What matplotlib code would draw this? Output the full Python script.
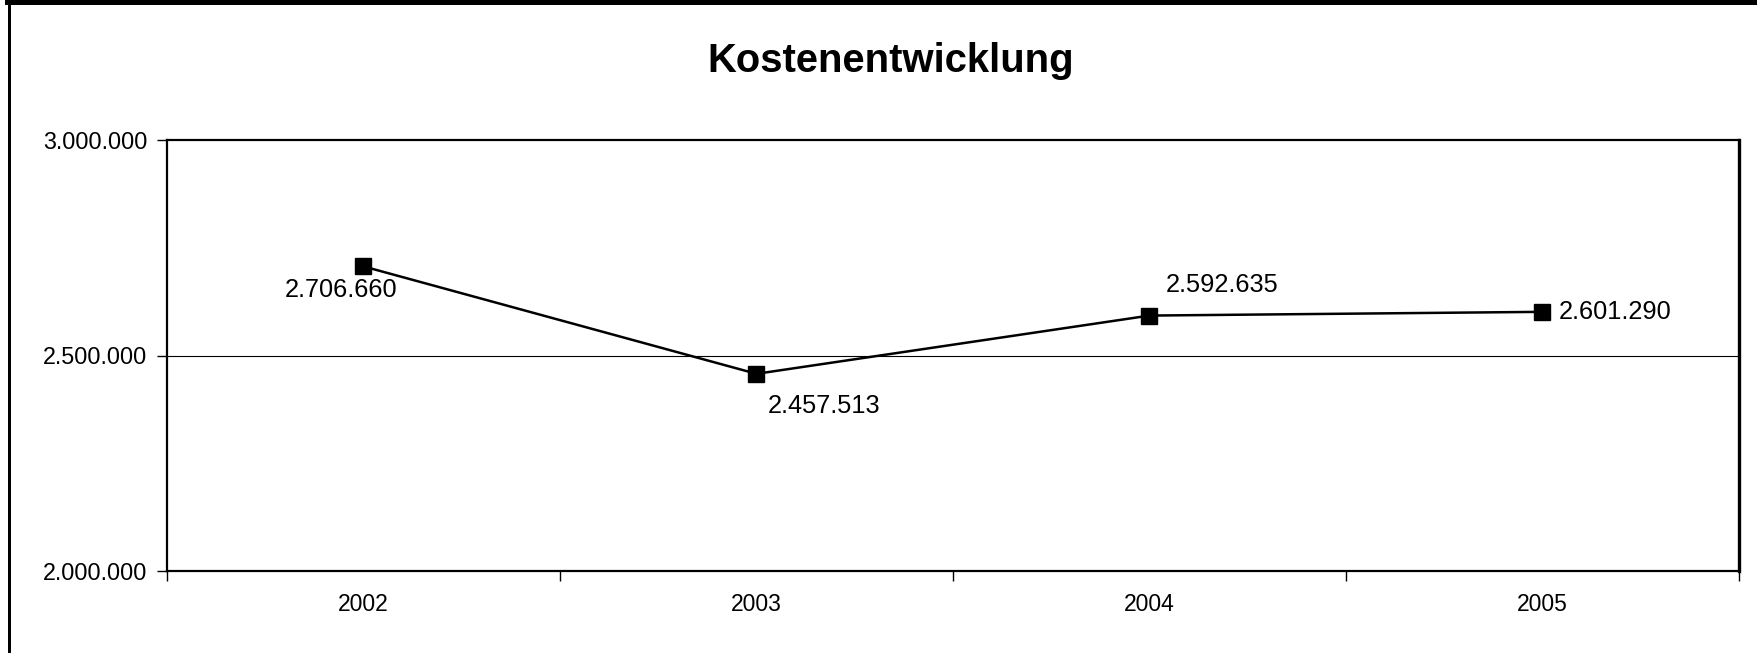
import matplotlib.pyplot as plt
from matplotlib.patches import Rectangle

plt.rcParams['font.family'] = ['Liberation Sans', 'DejaVu Sans']

# daten
jahre = ['2002', '2003', '2004', '2005']
kosten = [2706660, 2457513, 2592635, 2601290]
# position der beschriftungen (offset in punkten, ausrichtung)
label_offsets = [(-16, -17, 'center'), (8, -23, 'left'), (12, 22, 'left'), (12, 0, 'left')]

def fmt(v):
    return f'{v:,}'.replace(',', '.')

W, H = 1758, 653
fig = plt.figure(figsize=(W / 100, H / 100), dpi=100)
ax = fig.add_axes([167 / W, 1 - 571 / H, (1739 - 167) / W, (571 - 140) / H])

x = range(len(jahre))
ax.plot(x, kosten, color='black', linewidth=1.8, marker='s', markersize=11,
        markerfacecolor='black', markeredgecolor='black', zorder=3)

for i, v in enumerate(kosten):
    dx, dy, ha = label_offsets[i]
    ax.annotate(fmt(v), (i, v), xytext=(dx, dy), textcoords='offset points',
                ha=ha, va='center', fontsize=18.3)

ax.set_xlim(-0.5, len(jahre) - 0.5)
ax.set_ylim(2000000, 3000000)
ax.set_yticks([2000000, 2500000, 3000000])
ax.set_yticklabels([fmt(t) for t in [2000000, 2500000, 3000000]], fontsize=16.8)
ax.axhline(2500000, color='black', linewidth=0.8, zorder=1)

# x achse: striche zwischen den kategorien, beschriftung in der mitte
ax.set_xticks([i - 0.5 for i in range(len(jahre) + 1)])
ax.set_xticklabels([])
ax.set_xticks(list(x), minor=True)
ax.set_xticklabels(jahre, minor=True, fontsize=16.5)
ax.tick_params(axis='x', which='minor', length=0, pad=16)
ax.tick_params(axis='x', which='major', length=7, width=1, direction='out')
ax.tick_params(axis='y', length=7, width=1, direction='out', pad=7)

for s in ax.spines.values():
    s.set_linewidth(1.6)
ax.spines['right'].set_linewidth(2.4)

fig.text(891 / W, 1 - 61 / H, 'Kostenentwicklung', ha='center', va='center',
         fontsize=28.8, fontweight='bold')

# rahmen oben und links
fig.add_artist(Rectangle((5 / W, 1 - 4.5 / H), 1, 4.5 / H, transform=fig.transFigure,
                         color='black', lw=0))
fig.add_artist(Rectangle((8 / W, 0), 3.5 / W, 1, transform=fig.transFigure,
                         color='black', lw=0))

fig.savefig('out.png', dpi=100)
